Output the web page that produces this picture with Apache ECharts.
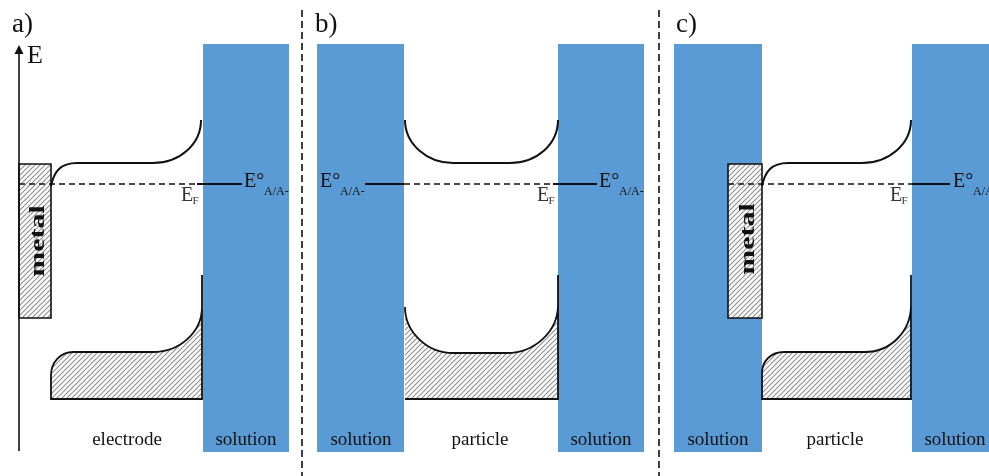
<!DOCTYPE html>
<html><head><meta charset="utf-8">
<script src="https://cdn.jsdelivr.net/npm/echarts@6/dist/echarts.min.js"></script>
<style>html,body{margin:0;padding:0;background:#fff}#c{width:989px;height:476px}</style>
</head><body><div id="c"></div>
<script>
// ---- Diagram data (x: horizontal position, E: energy level, in diagram units; larger E-value = lower on page) ----
const panelLetters = ['a)', 'b)', 'c)'];
const panelLetterX = [12, 315, 676];
const panelLetterE = 25;

const regionLabels = ['electrode', 'solution', 'solution', 'particle', 'solution', 'solution', 'particle', 'solution'];
const regionLabelX = [127, 246, 361, 480, 601, 718, 835, 955];
const regionLabelE = 440.5;

// solution blocks: [x0, x1, Etop, Ebottom]
const solutionBlocks = [
  [203, 289, 44, 452],
  [317, 404, 44, 452],
  [558, 644, 44, 452],
  [674, 762, 44, 452],
  [912, 995, 44, 452]
];
// metal blocks: [x0, x1, Etop, Ebottom]
const metalBlocks = [
  [19, 51, 164, 318],
  [728, 762, 164, 318]
];
const metalLabel = 'metal';
const metalLabelPos = [[38.7, 241], [748.7, 239]];

// Fermi level / redox level
const fermiLevel = 184;
const fermiDashed = [[19, 197], [404, 554], [728, 912]];
const fermiSolid = [[197, 242], [365, 404], [553, 597], [912, 950]];
const fermiLabelX = [181, 537, 890];
const redoxLabelX = [244, 320, 599, 953];

// conduction band edges (path commands)
const conductionBands = [
  [['M', 51, 186], ['C', 54, 172, 60, 163, 77, 163], ['L', 153, 163], ['C', 180, 163, 201, 144, 201, 120]],
  [['M', 405, 120], ['C', 405, 144, 427, 163, 453, 163], ['L', 510, 163], ['C', 537, 163, 558, 144, 558, 120]],
  [['M', 762, 186], ['C', 765, 172, 771, 163, 788, 163], ['L', 862, 163], ['C', 889, 163, 911, 144, 911, 120]]
];
// valence band (filled states) outlines
const valenceBands = [
  [['M', 202, 275], ['L', 202, 399], ['L', 51, 399], ['L', 51, 375], ['C', 51, 362, 61, 352, 73, 352], ['L', 153, 352], ['C', 180, 352, 202, 332, 202, 307]],
  [['M', 405, 307], ['C', 405, 332, 427, 353, 453, 353], ['L', 507, 353], ['C', 534, 353, 558, 332, 558, 305], ['L', 558, 275], ['L', 558, 399], ['L', 405, 399]],
  [['M', 911, 275], ['L', 911, 399], ['L', 762, 399], ['L', 762, 373], ['C', 762, 361, 771, 352, 784, 352], ['L', 865, 352], ['C', 891, 352, 911, 331, 911, 305]]
];
// energy axis: [x, Ebottom, Etip]
const energyAxis = [19, 451, 45];
const energyAxisLabel = 'E';
// panel separators
const separatorX = [302, 659];
const separatorSpan = [10, 476];

// ---- rendering ----
const SERIF = '"Liberation Serif","Times New Roman",serif';
const BLUE = '#5B9BD5';

function hatchCanvas() {
  const c = document.createElement('canvas');
  c.width = 5; c.height = 5;
  const g = c.getContext('2d');
  g.fillStyle = '#fff'; g.fillRect(0, 0, 5, 5);
  g.strokeStyle = '#8f8f8f'; g.lineWidth = 1.1;
  g.beginPath();
  for (let k = -1; k <= 1; k++) { g.moveTo(-1 + k * 5, 6); g.lineTo(6 + k * 5, -1); }
  g.stroke();
  return c;
}
const HATCH = { image: hatchCanvas(), repeat: 'repeat' };

function toPath(cmds, api) {
  return cmds.map(c => {
    const pts = [];
    for (let i = 1; i < c.length; i += 2) {
      const p = api.coord([c[i], c[i + 1]]);
      pts.push(p[0].toFixed(2) + ' ' + p[1].toFixed(2));
    }
    return c[0] + pts.join(' ');
  }).join(' ');
}
function rectOf(api, x0, x1, y0, y1) {
  const a = api.coord([x0, y0]), b = api.coord([x1, y1]);
  return { x: Math.min(a[0], b[0]), y: Math.min(a[1], b[1]), width: Math.abs(b[0] - a[0]), height: Math.abs(b[1] - a[1]) };
}
function idx(arr) { return arr.map((_, i) => [i]); }
function txt(api, x, y, text, size, opts) {
  const p = api.coord([x, y]);
  return Object.assign({
    type: 'text', x: p[0], y: p[1], silent: true,
    style: Object.assign({ text: text, fontFamily: SERIF, fontSize: size, fill: '#111', align: 'left', verticalAlign: 'middle' }, (opts && opts.style) || {})
  }, (opts && opts.el) || {});
}
const base = { type: 'custom', coordinateSystem: 'cartesian2d', silent: true, animation: false };

const option = {
  animation: false,
  grid: { left: 0, right: 0, top: 0, bottom: 0 },
  xAxis: { type: 'value', min: 0, max: 989, show: false },
  yAxis: { type: 'value', min: 0, max: 476, inverse: true, show: false },
  series: [
    Object.assign({}, base, {
      data: solutionBlocks,
      renderItem: (p, api) => ({ type: 'rect', shape: rectOf(api, api.value(0), api.value(1), api.value(2), api.value(3)), style: { fill: BLUE } })
    }),
    Object.assign({}, base, {
      data: separatorX.map(x => [x]),
      renderItem: (p, api) => {
        const a = api.coord([api.value(0), separatorSpan[0]]), b = api.coord([api.value(0), separatorSpan[1]]);
        return { type: 'line', shape: { x1: a[0], y1: a[1], x2: b[0], y2: b[1] }, style: { stroke: '#111', lineWidth: 1.6, lineDash: [7, 4] } };
      }
    }),
    Object.assign({}, base, {
      data: metalBlocks,
      renderItem: (p, api) => ({ type: 'rect', shape: rectOf(api, api.value(0), api.value(1), api.value(2), api.value(3)), style: { fill: HATCH, stroke: '#111', lineWidth: 1.6 } })
    }),
    Object.assign({}, base, {
      data: idx(valenceBands),
      renderItem: (p, api) => ({ type: 'path', shape: { pathData: toPath(valenceBands[api.value(0)], api) }, style: { fill: HATCH, stroke: '#111', lineWidth: 1.8 } })
    }),
    Object.assign({}, base, {
      data: idx(conductionBands),
      renderItem: (p, api) => ({ type: 'path', shape: { pathData: toPath(conductionBands[api.value(0)], api) }, style: { fill: 'none', stroke: '#111', lineWidth: 2 } })
    }),
    Object.assign({}, base, {
      data: fermiDashed,
      renderItem: (p, api) => {
        const a = api.coord([api.value(0), fermiLevel]), b = api.coord([api.value(1), fermiLevel]);
        return { type: 'line', shape: { x1: a[0], y1: a[1], x2: b[0], y2: b[1] }, style: { stroke: '#111', lineWidth: 1.6, lineDash: [6, 4] } };
      }
    }),
    Object.assign({}, base, {
      data: fermiSolid,
      renderItem: (p, api) => {
        const a = api.coord([api.value(0), fermiLevel]), b = api.coord([api.value(1), fermiLevel]);
        return { type: 'line', shape: { x1: a[0], y1: a[1], x2: b[0], y2: b[1] }, style: { stroke: '#111', lineWidth: 2 } };
      }
    }),
    Object.assign({}, base, {
      data: [energyAxis],
      renderItem: (p, api) => {
        const x = api.value(0);
        const b = api.coord([x, api.value(1)]), t = api.coord([x, api.value(2)]);
        return { type: 'group', children: [
          { type: 'line', shape: { x1: b[0], y1: b[1], x2: t[0], y2: t[1] + 6 }, style: { stroke: '#111', lineWidth: 1.6 } },
          { type: 'polygon', shape: { points: [[t[0], t[1]], [t[0] - 4.5, t[1] + 9], [t[0] + 4.5, t[1] + 9]] }, style: { fill: '#111' } },
          txt(api, x + 8, 56.5, energyAxisLabel, 26)
        ] };
      }
    }),
    Object.assign({}, base, {
      data: [[0]],
      renderItem: (p, api) => {
        const ch = [];
        panelLetters.forEach((s, i) => ch.push(txt(api, panelLetterX[i], panelLetterE, s, 27)));
        regionLabels.forEach((s, i) => ch.push(txt(api, regionLabelX[i], regionLabelE, s, 19, { style: { align: 'center' } })));
        fermiLabelX.forEach(x => {
          ch.push(txt(api, x, 195.5, 'E', 20, { style: { fill: '#333' } }));
          ch.push(txt(api, x + 11.5, 201.5, 'F', 11, { style: { fill: '#333' } }));
        });
        redoxLabelX.forEach(x => {
          ch.push(txt(api, x, 181.5, 'E°', 20));
          ch.push(txt(api, x + 20, 192, 'A/A-', 12));
        });
        metalLabelPos.forEach(pos => {
          ch.push(txt(api, pos[0], pos[1], metalLabel, 30, { style: { fontWeight: 'bold', align: 'center' }, el: { rotation: Math.PI / 2, scaleY: 0.72 } }));
        });
        return { type: 'group', children: ch };
      }
    })
  ]
};
const chart = echarts.init(document.getElementById('c'), null, { renderer: 'canvas' });
chart.setOption(option);
</script>
</body></html>
